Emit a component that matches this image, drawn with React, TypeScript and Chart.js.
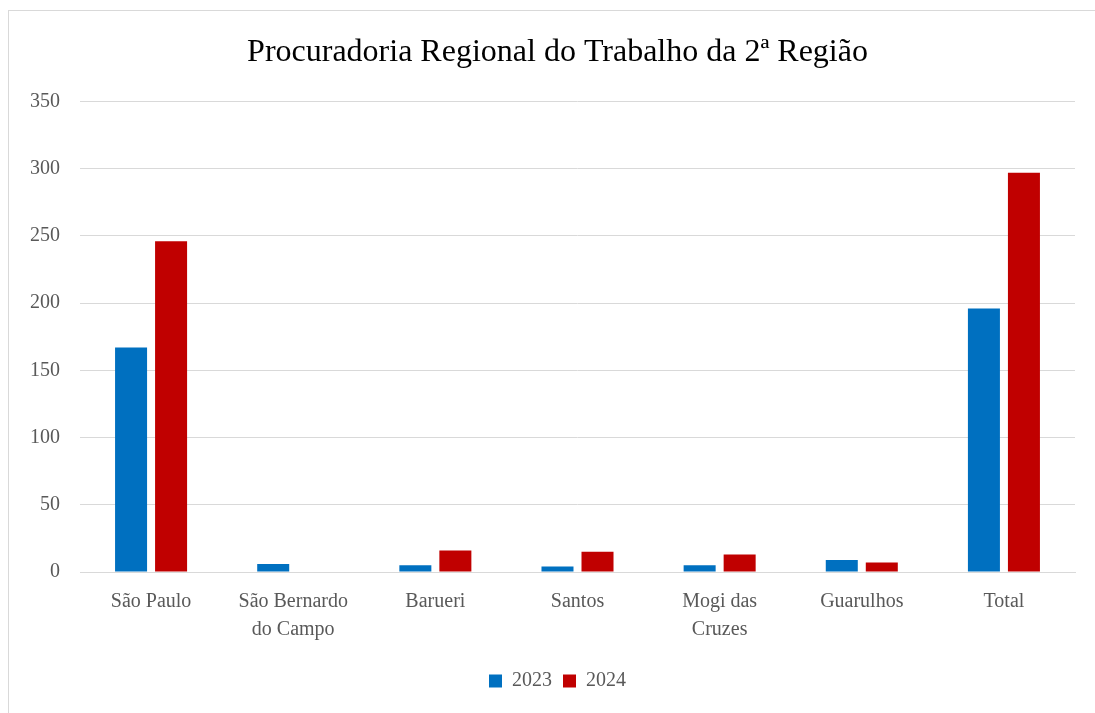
import React, { useEffect, useRef } from "react";
import { Chart, registerables } from "chart.js";

Chart.register(...registerables);

const categories: (string | string[])[] = [
  "São Paulo",
  ["São Bernardo", "do Campo"],
  "Barueri",
  "Santos",
  ["Mogi das", "Cruzes"],
  "Guarulhos",
  "Total",
];
const values2023 = [167, 6, 5, 4, 5, 9, 196];
const values2024 = [246, 0, 16, 15, 13, 7, 297];
const seriesLabels = ["2023", "2024"];
const titleText = "Procuradoria Regional do Trabalho da 2ª Região";

export default function App() {
  const ref = useRef<HTMLCanvasElement>(null);
  useEffect(() => {
    if (!ref.current) return;
    const font = "'Liberation Serif', 'Times New Roman', serif";
    const chart = new Chart(ref.current, {
      type: "bar",
      data: {
        labels: categories,
        datasets: [
          { label: seriesLabels[0], data: values2023, backgroundColor: "#0070c0" },
          { label: seriesLabels[1], data: values2024, backgroundColor: "#c00000" },
        ],
      },
      options: {
        animation: false,
        responsive: false,
        maintainAspectRatio: false,
        layout: { padding: { left: 31, right: 42, top: 22, bottom: 28 } },
        datasets: { bar: { categoryPercentage: 0.563, barPercentage: 0.8 } },
        plugins: {
          title: {
            display: true,
            text: titleText,
            color: "#000000",
            font: { family: font, size: 32, weight: "normal" },
            padding: { top: 0, bottom: 30 },
          },
          legend: {
            position: "bottom",
            labels: {
              color: "#595959",
              font: { family: font, size: 20 },
              boxWidth: 13,
              boxHeight: 13,
              padding: 11,
            },
          },
          tooltip: { enabled: false },
        },
        scales: {
          x: {
            grid: { display: false, drawTicks: false },
            border: { color: "#d9d9d9", width: 1 },
            ticks: {
              color: "#595959",
              font: { family: font, size: 20, lineHeight: 1.4 },
              padding: 16,
              maxRotation: 0,
              autoSkip: false,
            },
          },
          y: {
            min: 0,
            max: 350,
            grid: { color: "#d9d9d9", drawTicks: false },
            border: { display: false },
            afterFit: (scale: any) => {
              scale.width = 40;
            },
            ticks: {
              stepSize: 50,
              color: "#595959",
              font: { family: font, size: 20 },
              mirror: true,
              crossAlign: "far",
              padding: -50,
            },
          },
        },
      },
    });
    return () => chart.destroy();
  }, []);
  return (
    <div
      style={{
        position: "fixed",
        left: 0,
        top: 0,
        width: 1095,
        height: 713,
        overflow: "hidden",
        background: "#ffffff",
      }}
    >
      <div
        style={{
          position: "absolute",
          left: 8,
          top: 10,
          width: 1110,
          height: 720,
          border: "1px solid #d9d9d9",
          boxSizing: "border-box",
        }}
      >
        <canvas ref={ref} width={1108} height={718} style={{ display: "block" }} />
      </div>
    </div>
  );
}
